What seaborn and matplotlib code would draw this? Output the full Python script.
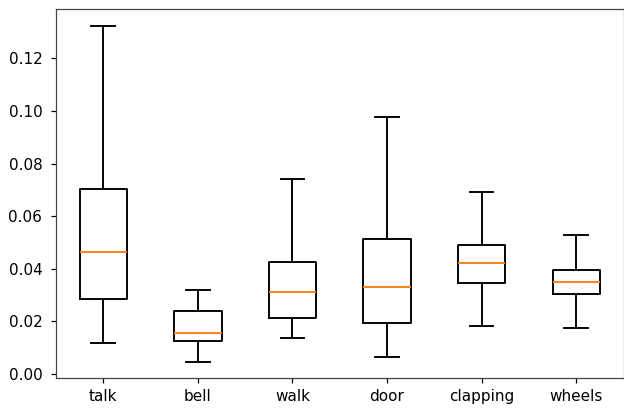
import numpy as np
import pandas as pd
import matplotlib
matplotlib.use("Agg")
import matplotlib.pyplot as plt
import seaborn as sns

# Five-number summaries per sound class
categories = ["talk", "bell", "walk", "door", "clapping", "wheels"]
whisker_low = [0.0118, 0.0046, 0.0136, 0.0065, 0.0181, 0.0174]
q1 = [0.0284, 0.0124, 0.0213, 0.0195, 0.0347, 0.0304]
median = [0.0465, 0.0156, 0.0310, 0.0331, 0.0421, 0.0350]
q3 = [0.0703, 0.0238, 0.0426, 0.0512, 0.0490, 0.0394]
whisker_high = [0.1324, 0.0318, 0.0742, 0.0976, 0.0690, 0.0529]

rows = []
for i, cat in enumerate(categories):
    for v in (whisker_low[i], q1[i], median[i], q3[i], whisker_high[i]):
        rows.append({"category": cat, "value": v})
df = pd.DataFrame(rows)

DPI = 110
fig = plt.figure(figsize=(624 / DPI, 411 / DPI), dpi=DPI)
ax = fig.add_axes([56 / 624, 33 / 411, 567.5 / 624, 368.7 / 411])

sns.boxplot(
    data=df, x="category", y="value", order=categories,
    fill=False, color="black", width=0.5, whis=np.inf,
    linewidth=1.25,
    medianprops=dict(color="#ff7f0e", linewidth=1.25),
    ax=ax,
)
ax.set_xlabel("")
ax.set_ylabel("")
ax.set_yticks([0.0, 0.02, 0.04, 0.06, 0.08, 0.10, 0.12])
ax.set_yticklabels(["0.00", "0.02", "0.04", "0.06", "0.08", "0.10", "0.12"])
ax.set_ylim(-0.0015, 0.1386)
ax.set_xlim(-0.5, 5.5)
ax.tick_params(axis="y", pad=5.5)
ax.tick_params(axis="x", pad=4.0)
for spine in ax.spines.values():
    spine.set_edgecolor("#444444")

fig.savefig("out.png", dpi=DPI)
